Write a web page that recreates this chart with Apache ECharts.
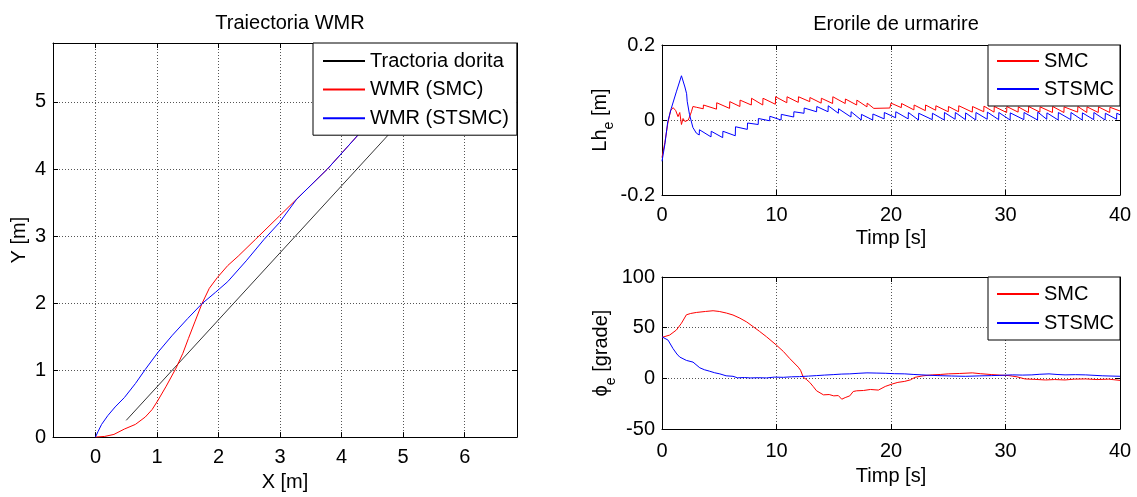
<!DOCTYPE html>
<html><head><meta charset="utf-8">
<script src="https://cdn.jsdelivr.net/npm/echarts@6/dist/echarts.min.js"></script>
<style>html,body{margin:0;padding:0;background:#fff}#c{width:1137px;height:497px}</style>
</head><body><div id="c"></div>
<script>
// ---------- data ----------
const trajX = [0.5, 5.3];
const trajY = [0.25, 5.05];
const smcX = [0, 0.15, 0.30, 0.47, 0.65, 0.81, 0.92, 1.01, 1.15, 1.31, 1.42, 1.51, 1.62, 1.73, 1.85, 1.98, 2.15, 2.32, 2.60, 2.99, 3.38, 3.77, 4.28, 4.65];
const smcY = [0, 0.01, 0.04, 0.12, 0.19, 0.30, 0.41, 0.54, 0.76, 1.03, 1.25, 1.47, 1.73, 1.99, 2.22, 2.38, 2.56, 2.70, 2.95, 3.30, 3.65, 4.00, 4.52, 4.95];
const stsmcX = [0, 0.04, 0.10, 0.20, 0.32, 0.47, 0.65, 0.81, 1.02, 1.25, 1.50, 1.73, 1.95, 2.15, 2.45, 2.74, 2.99, 3.27, 3.77, 4.28, 4.65];
const stsmcY = [0, 0.08, 0.19, 0.32, 0.45, 0.59, 0.80, 1.01, 1.27, 1.52, 1.77, 1.99, 2.16, 2.32, 2.63, 2.95, 3.20, 3.55, 4.00, 4.52, 4.95];

const lheSmc = [[0,-0.1],[0.25,-0.06],[0.5,-0.01],[0.75,0.025],[0.97,0.033],[1.2,0.025],[1.4,0.009],[1.55,0.02],[1.7,-0.012],[1.84,0.004],[2.0,-0.004],[2.3,0.0],[2.57,0.022],[2.7,0.036],[3.0,0.034],
[3.6,0.03],[3.62,0.04],[4.76,0.029],[4.78,0.046],[5.9,0.031],[5.92,0.049],[6.8,0.036],[6.82,0.053],[7.8,0.04],[7.82,0.058],[8.8,0.04],[8.82,0.058],[9.9,0.042],[9.92,0.062],[10.9,0.046],[10.92,0.062],[11.9,0.047],[11.92,0.062],[12.9,0.049],[12.92,0.06],[13.9,0.045],[13.92,0.058],[14.9,0.044],[14.92,0.062],[16.0,0.044],[16.02,0.056],[17.0,0.04],[17.02,0.053],[17.9,0.035],[17.92,0.045],[18.5,0.031],[19.9,0.032],[20.0,0.045],
[20.9,0.033],[20.92,0.044],[22.0,0.027],[22.02,0.04],[23.0,0.025],[23.02,0.04],[23.9,0.026],[23.92,0.038],[25.0,0.022],[25.02,0.036],[25.9,0.022],[25.92,0.038],[27.1,0.021],[27.12,0.036],[28.1,0.022],[28.12,0.037],[29.0,0.021],[29.02,0.036],[30.1,0.02],[30.12,0.036],[31.1,0.021],[31.12,0.035],[32.0,0.02],[32.02,0.036],[33.0,0.021],[33.02,0.035],[34.1,0.02],[34.12,0.036],[35.1,0.02],[35.12,0.035],[36.3,0.021],[36.32,0.036],[37.1,0.02],[37.12,0.035],[38.1,0.02],[38.12,0.035],[39.1,0.02],[39.12,0.034],[40,0.024]];

const lheStsmc = [[0,-0.11],[0.25,-0.065],[0.5,-0.005],[0.8,0.03],[1.25,0.075],[1.7,0.118],[2.0,0.088],[2.15,0.07],[2.2,0.05],[2.4,0.015],[2.7,-0.02],[3.0,-0.035],
[3.25,-0.04],[3.27,-0.026],[4.28,-0.045],[4.3,-0.03],[5.3,-0.047],[5.32,-0.03],[6.4,-0.042],[6.42,-0.018],[7.45,-0.025],[7.47,-0.008],[8.4,-0.012],[8.42,0.004],[9.4,-0.002],[9.42,0.01],[10.4,0.0],[10.42,0.015],[11.5,0.008],[11.52,0.022],[12.4,0.018],[12.42,0.032],[13.5,0.022],[13.52,0.036],[14.5,0.022],[14.52,0.038],[15.4,0.018],[15.42,0.03],[16.5,0.008],[16.52,0.022],[17.4,0.0],[17.42,0.015],[18.4,0.0],[18.42,0.016],[19.4,0.003],[19.42,0.02],[20.4,0.006],[20.42,0.022],[21.5,0.003],[21.52,0.02],[22.4,0.0],[22.42,0.018],[23.6,0.001],[23.62,0.018],[24.65,0.0],[24.67,0.02],[25.6,0.002],[25.62,0.02],[26.5,0.001],[26.52,0.019],[27.4,0.0],[27.42,0.02],[28.4,0.002],[28.42,0.021],[29.4,0.001],[29.42,0.02],[30.4,0.0],[30.42,0.019],[31.6,0.001],[31.62,0.02],[32.8,0.0],[32.82,0.021],[33.6,0.002],[33.62,0.019],[34.6,0.0],[34.62,0.02],[35.7,0.001],[35.72,0.02],[36.7,0.0],[36.72,0.019],[37.7,0.001],[37.72,0.02],[38.7,0.0],[38.72,0.018],[39.7,0.002],[39.72,0.018],[40,0.014]];

const phiSmc = [[0,40.4],[0.67,42.7],[1.26,47.7],[1.7,54.4],[2.13,62.7],[2.5,64],[3.0,65],[3.8,66],[4.46,66.7],[5.0,66],[5.63,64.4],[6.2,62.5],[6.8,59.4],[7.4,55.6],[7.96,51],[8.5,46.5],[9.13,41],[10.0,32.7],[10.6,26.5],[11.17,19.4],[11.9,11],[12.1,8],[12.34,1],[12.6,-1],[12.9,-4],[13.2,-8],[13.5,-12.3],[14.1,-16.3],[14.6,-16],[15.0,-17.3],[15.4,-17],[15.7,-20.6],[16.0,-19],[16.4,-17.3],[16.7,-13],[17.0,-12.3],[17.6,-12],[18.2,-11],[18.9,-11.6],[19.5,-8],[20.1,-5.6],[20.6,-4],[21.2,-3],[21.7,-1.5],[22.1,1],[22.8,2.5],[23.6,3.4],[24.3,3.8],[25.0,4.4],[26.0,4.8],[27.1,5.4],[27.8,4.6],[28.8,3.7],[29.5,3.2],[30.3,2.7],[31.0,1.5],[31.7,-0.6],[32.5,-1],[33.5,-1.6],[34.3,-1.2],[35.2,-1.6],[36.0,-0.8],[37.0,-0.6],[38.0,-1.2],[39.0,-0.8],[40,-2]];

const phiStsmc = [[0,41],[0.53,37.7],[0.96,29.4],[1.3,24],[1.55,21],[2.13,17.7],[2.71,16],[3.3,10.4],[3.7,8.5],[4.17,7],[4.6,5.5],[5.05,4.4],[5.6,2.5],[6.2,2],[6.6,0.5],[7.2,0.8],[7.7,0.4],[8.4,0.6],[9.13,0.4],[9.8,1.2],[10.6,1],[11.3,1.5],[12.0,1.7],[12.8,2.2],[13.5,2.7],[14.2,3.2],[15,3.7],[15.7,4.2],[16.4,4.4],[17.2,5],[17.9,5.4],[18.7,5.2],[19.5,5],[20.3,4.6],[21.2,4.4],[22.0,3.8],[22.7,3.4],[23.4,3],[24.1,2.7],[25.3,2.3],[26.5,2],[27.7,2.4],[28.8,2.7],[29.7,3],[30.6,3.4],[31.5,3.2],[32.3,3.4],[33.0,4],[33.8,4.4],[34.5,3.8],[35.2,3.4],[36.1,3.6],[37.0,3.4],[38.5,2.5],[40,2]];

const legendLeft = ['Tractoria dorita', 'WMR (SMC)', 'WMR (STSMC)'];
const legendRight = ['SMC', 'STSMC'];

// ---------- chart ----------
const FONT = 'Liberation Sans';
const zip = (a, b) => a.map((v, i) => [v, b[i]]);
const grid = { type: [1, 2], color: '#555', width: 1 };
const tick = { inside: true, length: 5, lineStyle: { color: '#000' } };
const line = { lineStyle: { color: '#000', width: 1 } };
const lbl = { fontSize: 20, color: '#000', fontFamily: FONT };
const nameStyle = { fontSize: 20, color: '#000', fontFamily: FONT,
  rich: { a: { fontSize: 20, lineHeight: 26, verticalAlign: 'top', fontFamily: FONT, color: '#000' },
          s: { fontSize: 14, lineHeight: 14, verticalAlign: 'bottom', fontFamily: FONT, color: '#000' } } };

function mainX(gi, min, max, extra) {
  return Object.assign({ type: 'value', gridIndex: gi, min, max, position: 'bottom',
    axisLine: Object.assign({ onZero: false }, line), axisTick: tick,
    axisLabel: Object.assign({ margin: 10 }, lbl),
    splitLine: { show: true, lineStyle: grid }, nameLocation: 'middle', nameTextStyle: nameStyle }, extra);
}
function mainY(gi, min, max, extra) {
  return Object.assign({ type: 'value', gridIndex: gi, min, max, position: 'left',
    axisLine: Object.assign({ onZero: false }, line), axisTick: tick,
    axisLabel: Object.assign({ margin: 7 }, lbl),
    splitLine: { show: true, lineStyle: grid }, nameLocation: 'middle', nameRotate: 90, nameTextStyle: nameStyle }, extra);
}
function sideAxis(gi, min, max, pos, extra) {
  return Object.assign({ type: 'value', gridIndex: gi, min, max, position: pos,
    axisLine: Object.assign({ onZero: false }, line), axisTick: tick,
    axisLabel: { show: false }, splitLine: { show: false } }, extra);
}
const lg = (extra) => Object.assign({ orient: 'vertical', selectedMode: false, itemWidth: 42, itemHeight: 20,
  itemStyle: { color: 'rgba(0,0,0,0)', borderColor: 'rgba(0,0,0,0)', borderWidth: 0 },
  backgroundColor: '#fff', borderColor: '#000', borderWidth: 1, borderRadius: 0,
  textStyle: { fontSize: 20, color: '#000', fontFamily: FONT }, z: 10 }, extra);

const option = {
  animation: false,
  backgroundColor: '#fff',
  title: [
    { text: 'Traiectoria WMR', left: 285, top: 8, textAlign: 'center', textStyle: { fontSize: 20, fontWeight: 'normal', color: '#000', fontFamily: FONT } },
    { text: 'Erorile de urmarire', left: 891, top: 9, textAlign: 'center', textStyle: { fontSize: 20, fontWeight: 'normal', color: '#000', fontFamily: FONT } }
  ],
  grid: [
    { left: 53, right: 620, top: 43, bottom: 57 },
    { left: 662, right: 17, top: 45, bottom: 302 },
    { left: 662, right: 17, top: 277, bottom: 68 }
  ],
  xAxis: [
    mainX(0, -0.69, 6.85, { splitNumber: 8, name: 'X [m]', nameGap: 33, axisLabel: Object.assign({ margin: 10, showMinLabel: false, showMaxLabel: false }, lbl) }),
    sideAxis(0, -0.69, 6.85, 'top', { splitNumber: 8 }),
    mainX(1, 0, 40, { interval: 10, name: '{a|Timp [s]}', nameGap: 33 }),
    sideAxis(1, 0, 40, 'top', { interval: 10 }),
    mainX(2, 0, 40, { interval: 10, name: '{a|Timp [s]}', nameGap: 37, axisLabel: Object.assign({ margin: 12 }, lbl) }),
    sideAxis(2, 0, 40, 'top', { interval: 10 })
  ],
  yAxis: [
    mainY(0, 0, 5.88, { interval: 1, name: 'Y [m]', nameGap: 24, axisLabel: Object.assign({ margin: 7, showMaxLabel: false }, lbl) }),
    sideAxis(0, 0, 5.88, 'right', { interval: 1 }),
    mainY(1, -0.2, 0.2, { interval: 0.2, name: '{a|Lh}{s|e}{a| [m]}', nameGap: 42 }),
    sideAxis(1, -0.2, 0.2, 'right', { interval: 0.2 }),
    mainY(2, -50, 100, { interval: 50, name: '{a|ϕ}{s|e}{a| [grade]}', nameGap: 42 }),
    sideAxis(2, -50, 100, 'right', { interval: 50 })
  ],
  legend: [
    lg({ left: 313, top: 43, padding: [8, 8, 7, 9], itemGap: 8.6, data: legendLeft }),
    lg({ left: 988, top: 45, padding: [6, 6, 7, 8], itemGap: 8, data: legendRight }),
    lg({ left: 988, top: 277, padding: [7, 6, 7, 8], itemGap: 9, data: legendRight })
  ],
  series: [
    { name: legendLeft[0], type: 'line', xAxisIndex: 0, yAxisIndex: 0, data: zip(trajX, trajY), symbol: 'none', color: '#000', lineStyle: { color: '#000', width: 0.8 } },
    { name: legendLeft[1], type: 'line', xAxisIndex: 0, yAxisIndex: 0, data: zip(smcX, smcY), symbol: 'none', color: '#ff0000', lineStyle: { color: '#ff0000', width: 1 } },
    { name: legendLeft[2], type: 'line', xAxisIndex: 0, yAxisIndex: 0, data: zip(stsmcX, stsmcY), symbol: 'none', color: '#0000ff', lineStyle: { color: '#0000ff', width: 1 } },
    { name: legendRight[0], type: 'line', xAxisIndex: 2, yAxisIndex: 2, data: lheSmc, symbol: 'none', color: '#ff0000', lineStyle: { color: '#ff0000', width: 1 } },
    { name: legendRight[1], type: 'line', xAxisIndex: 2, yAxisIndex: 2, data: lheStsmc, symbol: 'none', color: '#0000ff', lineStyle: { color: '#0000ff', width: 1 } },
    { name: legendRight[0], type: 'line', xAxisIndex: 4, yAxisIndex: 4, data: phiSmc, symbol: 'none', color: '#ff0000', lineStyle: { color: '#ff0000', width: 1 } },
    { name: legendRight[1], type: 'line', xAxisIndex: 4, yAxisIndex: 4, data: phiStsmc, symbol: 'none', color: '#0000ff', lineStyle: { color: '#0000ff', width: 1 } }
  ]
};
const chart = echarts.init(document.getElementById('c'), null, { renderer: 'canvas' });
chart.setOption(option);
</script></body></html>
